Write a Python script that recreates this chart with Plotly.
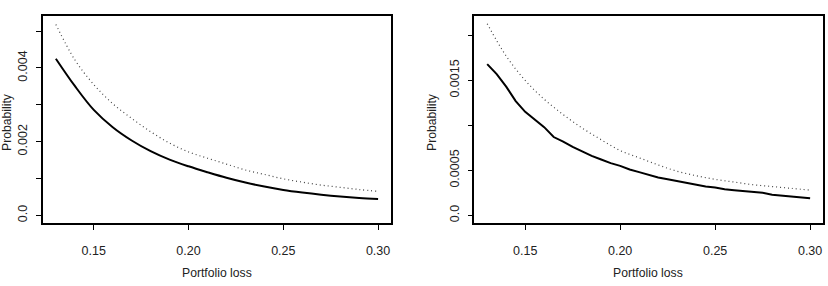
import plotly.graph_objects as go

# ---- data ----
x_left = [0.13, 0.14, 0.15, 0.16, 0.17, 0.18, 0.19, 0.20, 0.21, 0.22,
          0.23, 0.24, 0.25, 0.26, 0.27, 0.28, 0.29, 0.30]
left_solid = [0.00425, 0.00351, 0.00286, 0.00239, 0.00203, 0.00174, 0.00151, 0.00133, 0.00117,
              0.00102, 0.00089, 0.00078, 0.00069, 0.00062, 0.00056, 0.00051, 0.00047, 0.00044]
left_dotted = [0.00518, 0.00422, 0.00355, 0.00303, 0.00263, 0.00227, 0.00196, 0.00172, 0.00155,
               0.00139, 0.00123, 0.00111, 0.00099, 0.00090, 0.00082, 0.00076, 0.00070, 0.00065]

x_right = [0.13, 0.135, 0.14, 0.145, 0.15, 0.155, 0.16, 0.165, 0.17, 0.175, 0.18, 0.185,
           0.19, 0.195, 0.20, 0.205, 0.21, 0.215, 0.22, 0.225, 0.23, 0.235, 0.24, 0.245,
           0.25, 0.255, 0.26, 0.265, 0.27, 0.275, 0.28, 0.285, 0.29, 0.295, 0.30]
right_solid = [0.00168, 0.00157, 0.00143, 0.00127, 0.00115, 0.00106, 0.00098, 0.00087, 0.00082,
               0.00076, 0.00071, 0.00066, 0.00062, 0.00058, 0.00055, 0.00051, 0.00048, 0.00045,
               0.00042, 0.00040, 0.00038, 0.00036, 0.00034, 0.00032, 0.00031, 0.00029, 0.00028,
               0.00027, 0.00026, 0.00025, 0.00023, 0.00022, 0.00021, 0.00020, 0.00019]
x_right_dot = [0.13, 0.14, 0.15, 0.16, 0.17, 0.18, 0.19, 0.20, 0.21, 0.22,
               0.23, 0.24, 0.25, 0.26, 0.27, 0.28, 0.29, 0.30]
right_dotted = [0.00213, 0.00177, 0.00150, 0.00129, 0.00112, 0.00097, 0.00084, 0.00072, 0.00064,
                0.00056, 0.00049, 0.00044, 0.00040, 0.00037, 0.00034, 0.00032, 0.00030, 0.00028]

x_ticks = [0.15, 0.20, 0.25, 0.30]
x_ticklabels = ["0.15", "0.20", "0.25", "0.30"]
yl_ticks = [0, 0.001, 0.002, 0.003, 0.004, 0.005]
yl_labels = ["0.0", "", "0.002", "", "0.004", ""]
yr_ticks = [0, 0.0005, 0.001, 0.0015, 0.002]
yr_labels = ["0.0", "0.0005", "", "0.0015", ""]

FONT = "Liberation Sans, Arial, sans-serif"
DOT = dict(color="#444", width=1.2, dash="1px,3px", shape="spline")

fig = go.Figure()
fig.add_trace(go.Scatter(x=x_left, y=left_dotted, mode="lines", line=DOT, xaxis="x", yaxis="y"))
fig.add_trace(go.Scatter(x=x_left, y=left_solid, mode="lines", line=dict(color="black", width=2, shape="spline"), xaxis="x", yaxis="y"))
fig.add_trace(go.Scatter(x=x_right_dot, y=right_dotted, mode="lines", line=DOT, xaxis="x2", yaxis="y2"))
fig.add_trace(go.Scatter(x=x_right, y=right_solid, mode="lines", line=dict(color="black", width=2), xaxis="x2", yaxis="y2"))

axis_common = dict(showline=True, mirror=True, linecolor="black", linewidth=1.5,
                   ticks="outside", ticklen=5, tickwidth=1, tickcolor="black",
                   showgrid=False, zeroline=False, tickfont=dict(family=FONT, size=12.5, color="#222"))

xr = [0.1232, 0.3068]
fig.update_layout(
    width=828, height=286, margin=dict(l=0, r=0, t=0, b=0),
    paper_bgcolor="white", plot_bgcolor="white", showlegend=False,
    xaxis=dict(domain=[0.0519, 0.4722], range=xr, tickvals=x_ticks, ticktext=x_ticklabels,
               anchor="y", ticklabelstandoff=10, **axis_common),
    yaxis=dict(domain=[0.2203, 0.944], range=[-0.000208, 0.005408], tickvals=yl_ticks, ticktext=yl_labels,
               tickangle=-90, anchor="x", ticklabelstandoff=4, **axis_common),
    xaxis2=dict(domain=[0.5728, 0.9940], range=xr, tickvals=x_ticks, ticktext=x_ticklabels,
                anchor="y2", ticklabelstandoff=10, **axis_common),
    yaxis2=dict(domain=[0.2203, 0.944], range=[-0.0000852, 0.0022152], tickvals=yr_ticks, ticktext=yr_labels,
                tickangle=-90, anchor="x2", ticklabelstandoff=4, **axis_common),
)

ann_font = dict(family=FONT, size=12.2, color="#222")
fig.add_annotation(text="Portfolio loss", x=217 / 828, y=1 - 273 / 286, xref="paper", yref="paper",
                   showarrow=False, font=ann_font, xanchor="center", yanchor="middle")
fig.add_annotation(text="Portfolio loss", x=648 / 828, y=1 - 273 / 286, xref="paper", yref="paper",
                   showarrow=False, font=ann_font, xanchor="center", yanchor="middle")
fig.add_annotation(text="Probability", x=7 / 828, y=1 - 122 / 286, xref="paper", yref="paper",
                   showarrow=False, font=ann_font, textangle=-90, xanchor="center", yanchor="middle")
fig.add_annotation(text="Probability", x=432 / 828, y=1 - 122 / 286, xref="paper", yref="paper",
                   showarrow=False, font=ann_font, textangle=-90, xanchor="center", yanchor="middle")

fig.write_html("out.html")
